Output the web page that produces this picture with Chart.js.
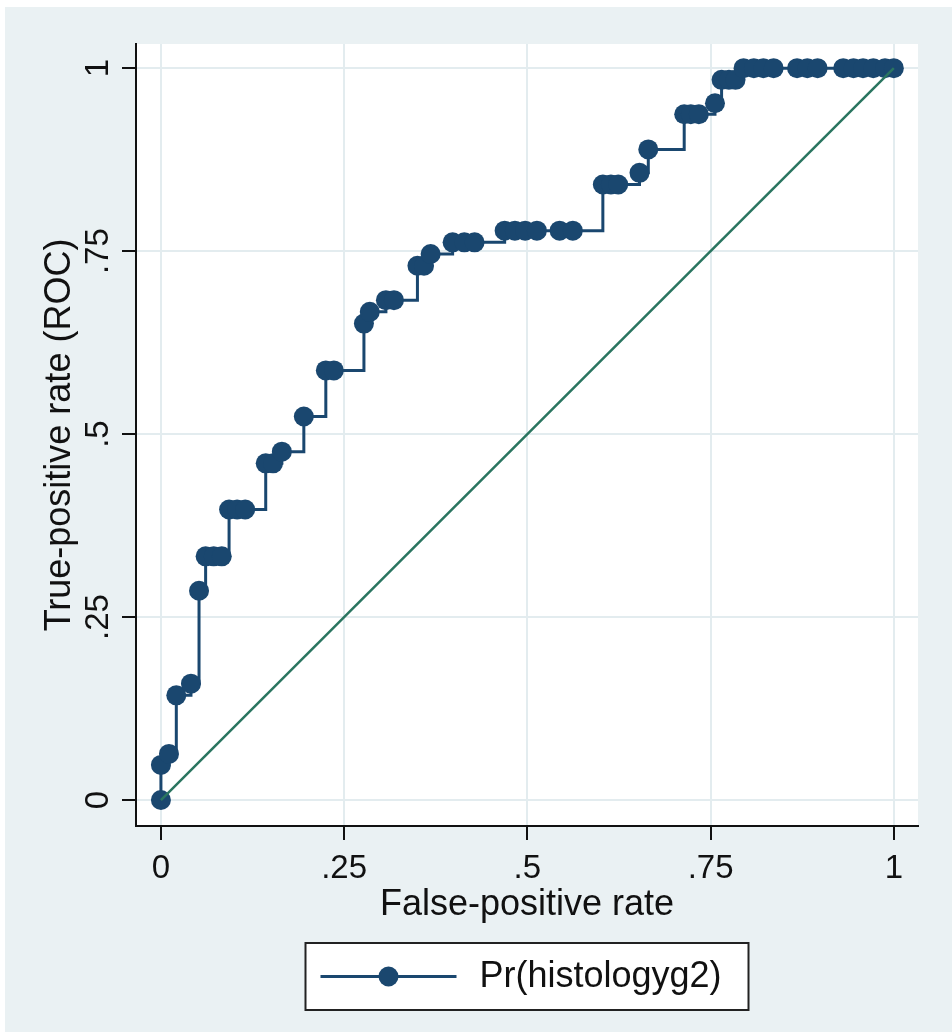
<!DOCTYPE html>
<html>
<head>
<meta charset="utf-8">
<script src="https://cdn.jsdelivr.net/npm/chart.js"></script>
<style>
  html, body { margin: 0; padding: 0; background: #ffffff; }
  #wrap { position: absolute; left: 5px; top: 7px; width: 947px; height: 1025px; background: #eaf1f3; }
  canvas { display: block; }
</style>
</head>
<body>
<div id="wrap"><canvas id="myChart" width="947" height="1025"></canvas></div>
<script>
// ROC points (false-positive rate, true-positive rate)
const fpr = [0, 0, 0.011, 0.021, 0.041, 0.052,
  0.061, 0.072, 0.083, 0.093, 0.104, 0.115,
  0.143, 0.153, 0.165, 0.195, 0.225, 0.236,
  0.277, 0.285, 0.307, 0.318, 0.350, 0.359, 0.368,
  0.398, 0.414, 0.428, 0.469, 0.483, 0.497, 0.513, 0.544, 0.562,
  0.603, 0.614, 0.624, 0.653, 0.665, 0.714, 0.723, 0.734, 0.756,
  0.765, 0.775, 0.784,
  0.795, 0.809, 0.822, 0.836, 0.868, 0.882, 0.896, 0.931, 0.945, 0.958, 0.972, 0.988, 1];
const tpr = [0, 0.048, 0.063, 0.143, 0.159, 0.286,
  0.333, 0.333, 0.333, 0.397, 0.397, 0.397,
  0.460, 0.460, 0.476, 0.524, 0.587, 0.587,
  0.651, 0.667, 0.683, 0.683, 0.730, 0.730, 0.746,
  0.762, 0.762, 0.762, 0.778, 0.778, 0.778, 0.778, 0.778, 0.778,
  0.841, 0.841, 0.841, 0.857, 0.889, 0.937, 0.937, 0.937, 0.952,
  0.984, 0.984, 0.984,
  1, 1, 1, 1, 1, 1, 1, 1, 1, 1, 1, 1, 1];
const refX = [0, 1];
const refY = [0, 1];
const tickVals = [0, 0.25, 0.5, 0.75, 1];
const tickLabels = ['0', '.25', '.5', '.75', '1'];
const seriesName = 'Pr(histologyg2)';

const navy = '#1a476f';
const green = '#2a7560';
const fontFamily = "'Liberation Sans', Arial, sans-serif";

const rocData = fpr.map((x, i) => ({ x: x, y: tpr[i] }));
const refData = refX.map((x, i) => ({ x: x, y: refY[i] }));

// white plot region
const plotBg = {
  id: 'plotBg',
  beforeDraw(chart) {
    const { ctx, chartArea: a } = chart;
    ctx.save();
    ctx.fillStyle = '#ffffff';
    ctx.fillRect(a.left, a.top, a.right - a.left, a.bottom - a.top);
    ctx.restore();
  }
};

// boxed legend below the axis title, line with a marker
const boxLegend = {
  id: 'boxLegend',
  afterDraw(chart) {
    const { ctx, chartArea: a } = chart;
    const w = 443, h = 67;
    const cx = (a.left + a.right) / 2;
    const left = cx - w / 2;
    const top = a.bottom + 117;
    const midY = top + h / 2;
    ctx.save();
    ctx.fillStyle = '#ffffff';
    ctx.fillRect(left, top, w, h);
    ctx.strokeStyle = '#222222';
    ctx.lineWidth = 2;
    ctx.strokeRect(left, top, w, h);
    ctx.strokeStyle = navy;
    ctx.lineWidth = 3;
    ctx.beginPath();
    ctx.moveTo(left + 15, midY);
    ctx.lineTo(left + 151, midY);
    ctx.stroke();
    ctx.fillStyle = navy;
    ctx.beginPath();
    ctx.arc(left + 83, midY, 10, 0, Math.PI * 2);
    ctx.fill();
    ctx.fillStyle = '#111111';
    ctx.font = '36px ' + fontFamily;
    ctx.textBaseline = 'middle';
    ctx.textAlign = 'left';
    ctx.fillText(seriesName, left + 174, midY + 1);
    ctx.restore();
  }
};

const setTicks = (scale) => { scale.ticks = tickVals.map(v => ({ value: v })); };
const tickLabel = (v) => { const i = tickVals.indexOf(v); return i >= 0 ? tickLabels[i] : ''; };

const ctx = document.getElementById('myChart').getContext('2d');
new Chart(ctx, {
  type: 'line',
  data: {
    datasets: [{
      label: 'reference',
      data: refData,
      borderColor: green,
      borderWidth: 2.5,
      pointRadius: 0,
      fill: false,
      order: 0
    }, {
      label: seriesName,
      data: rocData,
      stepped: true,
      borderColor: navy,
      borderWidth: 3,
      pointRadius: 10,
      pointBackgroundColor: navy,
      pointBorderWidth: 0,
      fill: false,
      order: 1
    }]
  },
  options: {
    responsive: false,
    devicePixelRatio: 1,
    animation: false,
    layout: { padding: { left: 0, top: 37, right: 34, bottom: 109 } },
    plugins: {
      legend: { display: false },
      tooltip: { enabled: false }
    },
    scales: {
      x: {
        type: 'linear',
        min: -0.034,
        max: 1.033,
        afterBuildTicks: setTicks,
        afterFit: (s) => { s.height = 97; },
        grid: { color: '#e3ecef', lineWidth: 2, tickColor: '#111111', tickLength: 14, tickWidth: 2 },
        border: { color: '#111111', width: 2 },
        ticks: {
          callback: tickLabel,
          color: '#111111',
          padding: 9,
          maxRotation: 0,
          font: { family: fontFamily, size: 33 }
        },
        title: {
          display: true,
          text: 'False-positive rate',
          color: '#111111',
          padding: { top: 0, bottom: 0 },
          font: { family: fontFamily, size: 36, lineHeight: 1 }
        }
      },
      y: {
        type: 'linear',
        min: -0.0355,
        max: 1.033,
        afterBuildTicks: setTicks,
        afterFit: (s) => { s.width = 131; },
        grid: { color: '#e3ecef', lineWidth: 2, tickColor: '#111111', tickLength: 14, tickWidth: 2 },
        border: { color: '#111111', width: 2 },
        ticks: {
          callback: tickLabel,
          color: '#111111',
          padding: 0,
          minRotation: 90,
          maxRotation: 90,
          crossAlign: 'center',
          font: { family: fontFamily, size: 33 }
        },
        title: {
          display: true,
          text: 'True-positive rate (ROC)',
          color: '#111111',
          padding: { top: 37, bottom: 0 },
          font: { family: fontFamily, size: 36, lineHeight: 1 }
        }
      }
    }
  },
  plugins: [plotBg, boxLegend]
});
</script>
</body>
</html>
